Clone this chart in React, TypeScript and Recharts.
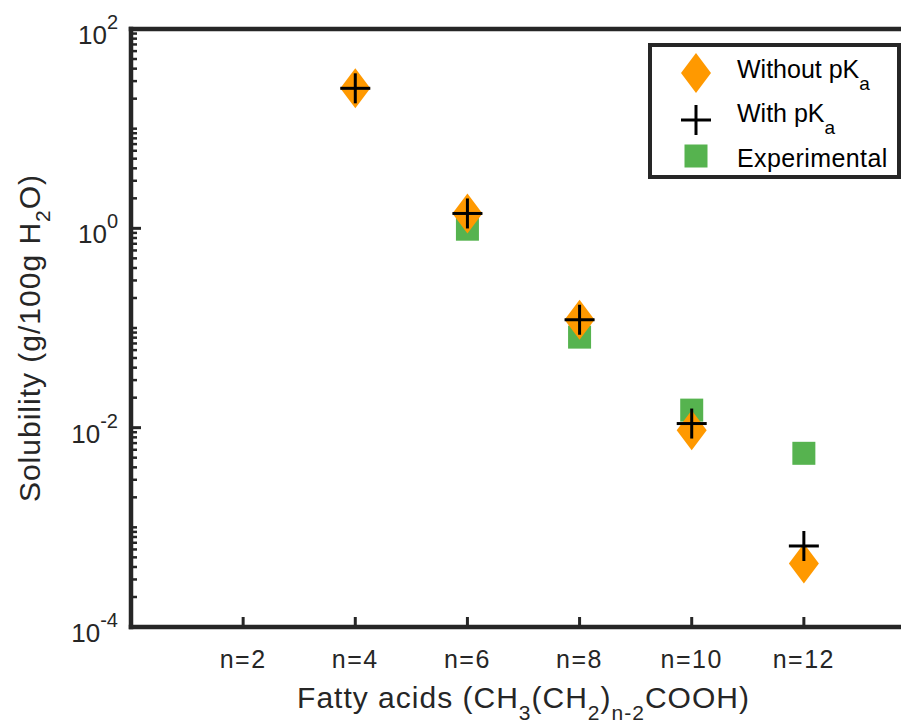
import React from 'react';
import { ScatterChart, Scatter, XAxis, YAxis, Legend } from 'recharts';

const categories = [2, 4, 6, 8, 10, 12];
const xTickLabels = ['n=2', 'n=4', 'n=6', 'n=8', 'n=10', 'n=12'];
const withoutPkaN = [4, 6, 8, 10, 12];
const withoutPka = [25.4, 1.41, 0.121, 0.0094, 0.000433];
const withPkaN = [4, 6, 8, 10, 12];
const withPka = [25.4, 1.41, 0.121, 0.011, 0.00065];
const experimentalN = [6, 8, 10, 12];
const experimental = [0.98, 0.081, 0.015, 0.00553];
const yMajorTicks = [1e-4, 1e-2, 1, 100];
const yMajorExponents = ['-4', '-2', '0', '2'];
const yDecades = [-4, -3, -2, -1, 0, 1];
const yMultipliers = [1, 2, 3, 4, 5, 6, 7, 8, 9];

const yTicks: number[] = [];
yDecades.forEach((d) => yMultipliers.forEach((m) => yTicks.push(Number((m * Math.pow(10, d)).toPrecision(3)))));
yTicks.push(100);

const INK = '#262626';
const FONT = '"Liberation Sans", Arial, Helvetica, sans-serif';
const ORANGE = '#FF9900';
const GREEN = '#56B34F';

const withoutData = withoutPkaN.map((n, i) => ({ x: n, y: withoutPka[i] }));
const withData = withPkaN.map((n, i) => ({ x: n, y: withPka[i] }));
const expData = experimentalN.map((n, i) => ({ x: n, y: experimental[i] }));

const majorIndex = (v: number) =>
  yMajorTicks.findIndex((t) => Math.abs(Math.log10(t) - Math.log10(v)) < 1e-6);

const Diamond = ({ cx, cy }: any) => (
  <polygon points={`${cx},${cy - 20} ${cx + 15},${cy} ${cx},${cy + 20} ${cx - 15},${cy}`} fill={ORANGE} />
);
const Plus = ({ cx, cy }: any) => (
  <g stroke="#000" strokeWidth={3}>
    <line x1={cx - 15} x2={cx + 15} y1={cy} y2={cy} />
    <line x1={cx} x2={cx} y1={cy - 15} y2={cy + 15} />
  </g>
);
const Square = ({ cx, cy }: any) => (
  <rect x={cx - 11.5} y={cy - 11.5} width={23} height={23} fill={GREEN} />
);

const LeftTick = (props: any) => {
  const { x, y, payload } = props;
  const idx = majorIndex(payload.value);
  const major = idx >= 0;
  return (
    <g>
      <line x1={x} x2={x + (major ? 10 : 6)} y1={y} y2={y} stroke={INK} strokeWidth={major ? 3 : 2.5} />
      {major && (
        <text x={x - 13} y={y + 15} textAnchor="end" fill={INK} fontFamily={FONT} fontSize={26}>
          <tspan>10</tspan>
          <tspan dy={-15} fontSize={20}>{yMajorExponents[idx]}</tspan>
        </text>
      )}
    </g>
  );
};

const RightTick = (props: any) => {
  const { x, y, payload } = props;
  const major = majorIndex(payload.value) >= 0;
  return <line x1={x} x2={x - (major ? 10 : 6)} y1={y} y2={y} stroke={INK} strokeWidth={major ? 3 : 2.5} />;
};

const BottomTick = (props: any) => {
  const { x, y, payload } = props;
  const idx = categories.indexOf(payload.value);
  return (
    <g>
      <line x1={x} x2={x} y1={y} y2={y - 10} stroke={INK} strokeWidth={3} />
      <text x={x} y={y + 41} textAnchor="middle" fill={INK} fontFamily={FONT} fontSize={25} letterSpacing={1.5}>
        {xTickLabels[idx]}
      </text>
    </g>
  );
};

const TopTick = (props: any) => {
  const { x, y } = props;
  return <line x1={x} x2={x} y1={y} y2={y + 10} stroke={INK} strokeWidth={3} />;
};

const XLabel = (props: any) => {
  const vb = props.viewBox || { x: 123, y: 619, width: 785 };
  const cx = vb.x + vb.width / 2;
  const by = vb.y + 81;
  return (
    <text x={cx} y={by} textAnchor="middle" fill={INK} fontFamily={FONT} fontSize={30} letterSpacing={1}>
      <tspan>Fatty acids (CH</tspan>
      <tspan dy={12} fontSize={21}>3</tspan>
      <tspan dy={-12}>(CH</tspan>
      <tspan dy={12} fontSize={21}>2</tspan>
      <tspan dy={-12}>)</tspan>
      <tspan dy={12} fontSize={21}>n-2</tspan>
      <tspan dy={-12}>COOH)</tspan>
    </text>
  );
};

const YLabel = () => {
  const cx = 32;
  const cy = 330;
  return (
    <text x={cx} y={cy} transform={`rotate(-90 ${cx} ${cy})`} textAnchor="middle" fill={INK} fontFamily={FONT} fontSize={30} letterSpacing={1}>
      <tspan>Solubility (g/100g H</tspan>
      <tspan dy={10} fontSize={21}>2</tspan>
      <tspan dy={-10}>O)</tspan>
    </text>
  );
};

const LegendBox = () => (
  <svg width={253} height={136} style={{ display: 'block' }}>
    <rect x={2} y={2} width={249} height={132} fill="#fff" stroke={INK} strokeWidth={4} />
    <Diamond cx={48} cy={30} />
    <Plus cx={48} cy={77} />
    <Square cx={48} cy={113} />
    <text x={89} y={35} fill="#000" fontFamily={FONT} fontSize={25}>
      <tspan>Without pK</tspan>
      <tspan dy={12} fontSize={19}>a</tspan>
    </text>
    <text x={89} y={79} fill="#000" fontFamily={FONT} fontSize={25}>
      <tspan>With pK</tspan>
      <tspan dy={12} fontSize={19}>a</tspan>
    </text>
    <text x={89} y={124} fill="#000" fontFamily={FONT} fontSize={25} letterSpacing={0.4}>
      Experimental
    </text>
  </svg>
);

const axisLineStyle = { stroke: INK, strokeWidth: 4.5, strokeLinecap: 'square' as const };

export default function App() {
  return (
    <div style={{ width: 901, height: 717, overflow: 'hidden', position: 'relative', background: '#fff' }}>
      <ScatterChart width={960} height={717} margin={{ top: 11, right: 42, bottom: 38, left: 63 }}>
        <XAxis
          dataKey="x"
          type="number"
          domain={[0, 14]}
          ticks={categories}
          interval={0}
          allowDataOverflow
          height={60}
          tickSize={0}
          tickMargin={0}
          tickLine={false}
          axisLine={axisLineStyle}
          tick={BottomTick}
          label={<XLabel />}
        />
        <XAxis
          xAxisId="top"
          orientation="top"
          type="number"
          domain={[0, 14]}
          ticks={categories}
          interval={0}
          allowDataOverflow
          height={10}
          tickSize={0}
          tickMargin={0}
          tickLine={false}
          axisLine={axisLineStyle}
          tick={TopTick}
        />
        <YAxis
          dataKey="y"
          type="number"
          scale="log"
          domain={[1e-4, 100]}
          ticks={yTicks}
          interval={0}
          allowDataOverflow
          width={60}
          tickSize={0}
          tickMargin={0}
          tickLine={false}
          axisLine={axisLineStyle}
          tick={LeftTick}
          label={<YLabel />}
        />
        <YAxis
          yAxisId="right"
          orientation="right"
          type="number"
          scale="log"
          domain={[1e-4, 100]}
          ticks={yTicks}
          interval={0}
          allowDataOverflow
          width={10}
          tickSize={0}
          tickMargin={0}
          tickLine={false}
          axisLine={axisLineStyle}
          tick={RightTick}
        />
        <Scatter name="Experimental" data={expData} shape={Square} isAnimationActive={false} />
        <Scatter name="Without pKa" data={withoutData} shape={Diamond} isAnimationActive={false} />
        <Scatter name="With pKa" data={withData} shape={Plus} isAnimationActive={false} />
        <Legend
          layout="horizontal"
          verticalAlign="middle"
          align="center"
          content={() => <LegendBox />}
          wrapperStyle={{ position: 'absolute', left: 640, top: 35, width: 253, height: 136 }}
        />
      </ScatterChart>
    </div>
  );
}
